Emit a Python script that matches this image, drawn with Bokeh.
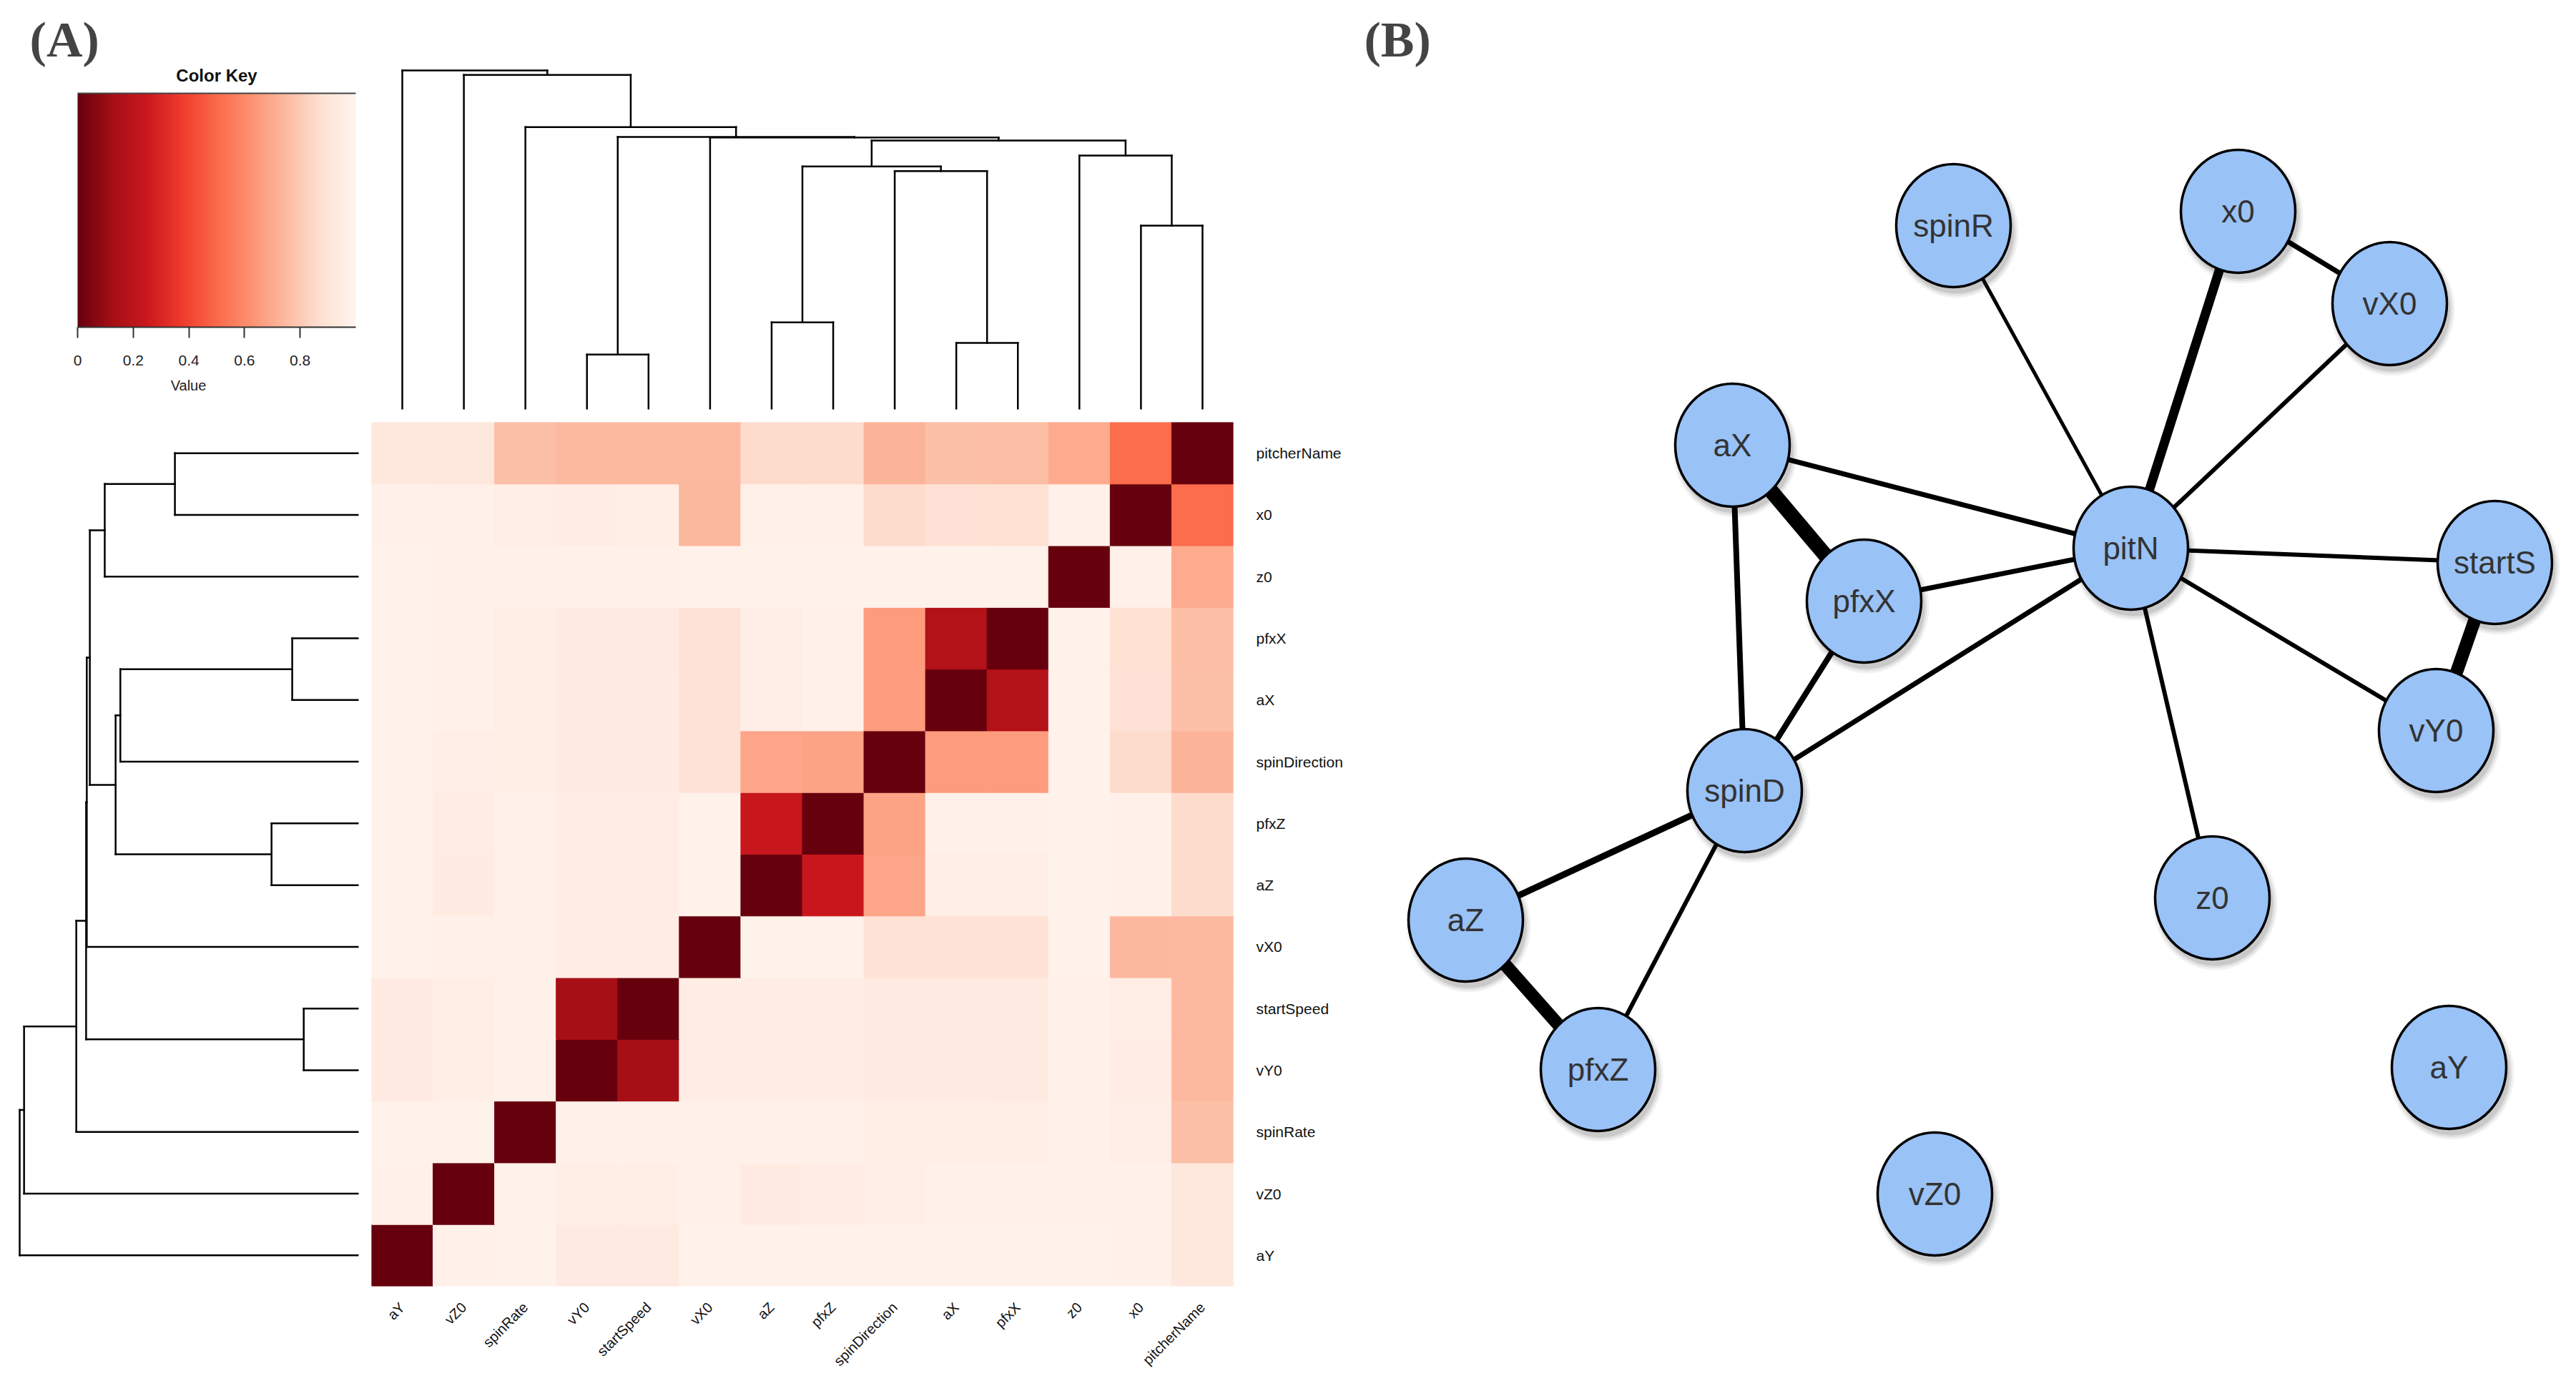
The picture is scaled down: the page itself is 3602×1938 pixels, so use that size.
import numpy as np
from bokeh.plotting import figure
from bokeh.models import (Range1d, FactorRange, ColumnDataSource, Label,
                          FixedTicker, LinearColorMapper)
from bokeh.layouts import row, column
from bokeh.transform import linear_cmap
from bokeh.embed import file_html
from bokeh.resources import INLINE
from bokeh.core.properties import value

# ---------------- data ----------------
labels = ["aY", "vZ0", "spinRate", "vY0", "startSpeed", "vX0", "aZ", "pfxZ",
          "spinDirection", "aX", "pfxX", "z0", "x0", "pitcherName"]

dist = [
    [0.00, 0.975, 0.98, 0.935, 0.935, 0.98, 0.98, 0.98, 0.98, 0.98, 0.98, 0.98, 0.975, 0.92],
    [0.975, 0.00, 0.98, 0.955, 0.955, 0.97, 0.94, 0.95, 0.96, 0.97, 0.97, 0.97, 0.97, 0.915],
    [0.98, 0.98, 0.00, 0.97, 0.97, 0.97, 0.97, 0.97, 0.955, 0.955, 0.955, 0.975, 0.96, 0.765],
    [0.935, 0.955, 0.97, 0.00, 0.13, 0.95, 0.95, 0.95, 0.94, 0.94, 0.935, 0.97, 0.95, 0.745],
    [0.935, 0.955, 0.97, 0.13, 0.00, 0.95, 0.95, 0.95, 0.94, 0.94, 0.935, 0.97, 0.955, 0.745],
    [0.98, 0.97, 0.97, 0.95, 0.95, 0.00, 0.98, 0.98, 0.885, 0.885, 0.885, 0.98, 0.74, 0.745],
    [0.98, 0.94, 0.97, 0.95, 0.95, 0.98, 0.00, 0.24, 0.68, 0.96, 0.96, 0.98, 0.975, 0.86],
    [0.98, 0.95, 0.97, 0.95, 0.95, 0.98, 0.24, 0.00, 0.675, 0.97, 0.97, 0.98, 0.975, 0.86],
    [0.98, 0.96, 0.955, 0.94, 0.94, 0.885, 0.68, 0.675, 0.00, 0.655, 0.655, 0.98, 0.86, 0.73],
    [0.98, 0.97, 0.955, 0.94, 0.94, 0.885, 0.96, 0.97, 0.655, 0.00, 0.17, 0.98, 0.88, 0.765],
    [0.98, 0.97, 0.955, 0.935, 0.935, 0.885, 0.96, 0.97, 0.655, 0.17, 0.00, 0.98, 0.875, 0.76],
    [0.98, 0.97, 0.975, 0.97, 0.97, 0.98, 0.98, 0.98, 0.98, 0.98, 0.98, 0.00, 0.97, 0.70],
    [0.975, 0.97, 0.96, 0.95, 0.955, 0.74, 0.975, 0.975, 0.86, 0.88, 0.875, 0.97, 0.00, 0.51],
    [0.92, 0.915, 0.765, 0.745, 0.745, 0.745, 0.86, 0.86, 0.73, 0.765, 0.76, 0.70, 0.51, 0.00],
]

merge_left = ["vY0", "aX", "aZ", "x0", "spinDirection", "c3", "z0", "c6", "vX0", "c1",
              "spinRate", "vZ0", "aY"]
merge_right = ["startSpeed", "pfxX", "pfxZ", "pitcherName", "c2", "c5", "c4", "c7", "c8",
               "c9", "c10", "c11", "c12"]
merge_height = [0.162, 0.196, 0.257, 0.542, 0.703, 0.717, 0.749, 0.793, 0.802, 0.804,
                0.833, 0.987, 1.0]

key_ticks = [0, 0.2, 0.4, 0.6, 0.8]

node_names = ["spinR", "x0", "vX0", "aX", "pfxX", "pitN", "startS", "vY0", "spinD",
              "aZ", "pfxZ", "z0", "aY", "vZ0"]
node_x = [2731, 3129, 3341, 2422, 2606, 2979, 3488, 3406, 2439, 2049, 2234, 3093, 3424, 2705]
node_y = [315, 295, 424, 622, 840, 766, 786, 1021, 1105, 1286, 1495, 1255, 1492, 1669]

edge_src = ["spinR", "x0", "x0", "vX0", "aX", "aX", "aX", "pfxX", "pfxX", "spinD",
            "pitN", "pitN", "pitN", "startS", "spinD", "spinD", "aZ"]
edge_dst = ["pitN", "pitN", "vX0", "pitN", "pitN", "pfxX", "spinD", "pitN", "spinD", "pitN",
            "startS", "vY0", "z0", "vY0", "aZ", "pfxZ", "pfxZ"]
edge_weight = [5, 13, 7, 6, 7, 21, 8, 7, 8, 7, 6, 6, 6, 18, 9, 6, 18]

# ---------------- palette ----------------
reds9 = ["#67000d", "#a50f15", "#cb181d", "#ef3b2c", "#fb6a4a", "#fc9272",
         "#fcbba1", "#fee0d2", "#fff5f0"]
def _rgb(h):
    return [int(h[i:i + 2], 16) for i in (1, 3, 5)]
anchors = np.array([_rgb(c) for c in reds9], dtype=float)
t = np.linspace(0, 1, 256)
pos_a = np.linspace(0, 1, len(reds9))
palette = []
for tt in t:
    r, g, b = (np.interp(tt, pos_a, anchors[:, k]) for k in range(3))
    palette.append("#%02x%02x%02x" % (int(round(r)), int(round(g)), int(round(b))))

FONT = "Liberation Sans"

# ---------------- color key ----------------
key = figure(width=519, height=590, x_range=Range1d(-83 / 389, 393 / 389),
             y_range=Range1d(0, 457 / 327),
             output_backend="svg", toolbar_location=None, y_axis_location=None,
             min_border_left=25, min_border_right=18, min_border_top=0,
             min_border_bottom=133, outline_line_color=None)
key.grid.visible = False
cm = LinearColorMapper(palette=palette, low=0, high=1)
key.image(image=[np.linspace(0, 1, 512).reshape(1, -1)], x=0, y=0, dw=1, dh=1,
          color_mapper=cm)
key.segment(x0=[0], y0=[1], x1=[1], y1=[1], line_color="#444444", line_width=2)
key.xaxis.bounds = (0, 1)
key.xaxis.ticker = FixedTicker(ticks=key_ticks)
key.xaxis.major_label_overrides = {0: "0"}
key.xaxis.major_tick_out = 15
key.xaxis.major_tick_in = 0
key.xaxis.minor_tick_line_color = None
key.xaxis.axis_line_width = 2
key.xaxis.axis_line_color = "#333333"
key.xaxis.major_tick_line_width = 2
key.xaxis.major_tick_line_color = "#333333"
key.xaxis.major_label_text_font = FONT
key.xaxis.major_label_text_font_size = "21px"
key.xaxis.major_label_text_color = "#222222"
key.xaxis.major_label_standoff = 24
key.xaxis.axis_label = "Value"
key.xaxis.axis_label_text_font = FONT
key.xaxis.axis_label_text_font_size = "20px"
key.xaxis.axis_label_text_font_style = "normal"
key.xaxis.axis_label_text_color = "#222222"
key.xaxis.axis_label_standoff = 14
key.add_layout(Label(x=0.5, y=(457 - 105) / 327, text="Color Key", text_font=FONT,
                     text_font_size="24px", text_font_style="bold", text_color="#111111",
                     text_align="center", text_baseline="middle"))
key.add_layout(Label(x=-0.172, y=(457 - 55) / 327, text="(A)", text_font="Liberation Serif",
                     text_font_size="70px", text_font_style="bold",
                     text_align="left", text_baseline="middle"))

# ---------------- dendrogram segments ----------------
pos = {n: i + 0.5 for i, n in enumerate(labels)}
hgt = {n: 0.0 for n in labels}
seg = dict(p0=[], h0=[], p1=[], h1=[])
for k, (a, b, h) in enumerate(zip(merge_left, merge_right, merge_height)):
    for c in (a, b):
        seg["p0"].append(pos[c]); seg["h0"].append(hgt[c])
        seg["p1"].append(pos[c]); seg["h1"].append(h)
    seg["p0"].append(pos[a]); seg["h0"].append(h)
    seg["p1"].append(pos[b]); seg["h1"].append(h)
    cid = "c%d" % (k + 1)
    pos[cid] = (pos[a] + pos[b]) / 2.0
    hgt[cid] = h
seg_src = ColumnDataSource(seg)

top = figure(width=1361, height=590, x_range=Range1d(0, 14), y_range=Range1d(0, 476 / 474),
             output_backend="svg", toolbar_location=None, x_axis_location=None,
             y_axis_location=None, min_border_left=0, min_border_right=153,
             min_border_top=96, min_border_bottom=18, outline_line_color=None)
top.grid.visible = False
top.segment(x0="p0", y0="h0", x1="p1", y1="h1", source=seg_src, line_color="black",
            line_width=2.5, line_cap="square")

left = figure(width=519, height=1340, x_range=Range1d(476 / 474, 0), y_range=Range1d(0, 14),
              output_backend="svg", toolbar_location=None, x_axis_location=None,
              y_axis_location=None, min_border_left=25, min_border_right=18,
              min_border_top=0, min_border_bottom=132, outline_line_color=None)
left.grid.visible = False
left.segment(x0="h0", y0="p0", x1="h1", y1="p1", source=seg_src, line_color="black",
             line_width=2.5, line_cap="square")

# ---------------- heatmap ----------------
hx, hy, hv = [], [], []
for i, rn in enumerate(labels):
    for j, cn in enumerate(labels):
        hx.append(cn); hy.append(rn); hv.append(dist[i][j])
heat_src = ColumnDataSource(dict(x=hx, y=hy, v=hv))
heat = figure(width=1361, height=1340, x_range=FactorRange(*labels),
              y_range=FactorRange(*labels), output_backend="svg", toolbar_location=None,
              x_axis_location="below", y_axis_location="right",
              min_border_left=0, min_border_right=153, min_border_top=0,
              min_border_bottom=132, outline_line_color=None)
heat.grid.visible = False
cmap = linear_cmap("v", palette, 0, 1)
heat.rect(x="x", y="y", width=1, height=1, source=heat_src, fill_color=cmap,
          line_color=cmap, line_width=1)
for ax in (heat.xaxis, heat.yaxis):
    ax.axis_line_color = None
    ax.major_tick_line_color = None
    ax.major_tick_out = 0
    ax.major_tick_in = 0
    ax.minor_tick_line_color = None
    ax.major_label_text_font = FONT
    ax.major_label_text_color = "#111111"
heat.yaxis.major_label_text_font_size = "21px"
heat.yaxis.major_label_standoff = 32
heat.xaxis.major_label_text_font_size = "20px"
heat.xaxis.major_label_orientation = np.pi / 4
heat.xaxis.major_label_standoff = 26

# ---------------- network ----------------
net = figure(width=1714, height=1930, x_range=Range1d(1880, 3594), y_range=Range1d(1930, 0),
             output_backend="svg", toolbar_location=None, x_axis_location=None,
             y_axis_location=None, min_border=0, outline_line_color=None)
net.grid.visible = False
idx = {n: i for i, n in enumerate(node_names)}
esrc = ColumnDataSource(dict(
    x0=[node_x[idx[s]] for s in edge_src], y0=[node_y[idx[s]] for s in edge_src],
    x1=[node_x[idx[d]] for d in edge_dst], y1=[node_y[idx[d]] for d in edge_dst],
    w=edge_weight))
net.segment(x0="x0", y0="y0", x1="x1", y1="y1", line_width="w", source=esrc,
            line_color="black")
nsrc = ColumnDataSource(dict(x=node_x, y=node_y, name=node_names,
                             sx=[v + 4 for v in node_x], sy=[v + 8 for v in node_y]))
for grow, alpha in [(14, 0.05), (8, 0.07), (2, 0.10)]:
    net.ellipse(x="sx", y="sy", width=160 + grow, height=172 + grow, source=nsrc,
                fill_color="black", fill_alpha=alpha, line_color=None)
net.ellipse(x="x", y="y", width=160, height=172, source=nsrc, fill_color="#99c2f7",
            line_color="black", line_width=3.5)
net.text(x="x", y="y", text="name", source=nsrc, text_align="center",
         text_baseline="middle", text_font=value(FONT), text_font_size="44px",
         text_color="#333333")
net.add_layout(Label(x=1907, y=55, text="(B)", text_font="Liberation Serif",
                     text_font_size="70px", text_font_style="bold",
                     text_align="left", text_baseline="middle"))

layout = row(column(key, left), column(top, heat), net)

open("out.html", "w").write(file_html(layout, INLINE))
